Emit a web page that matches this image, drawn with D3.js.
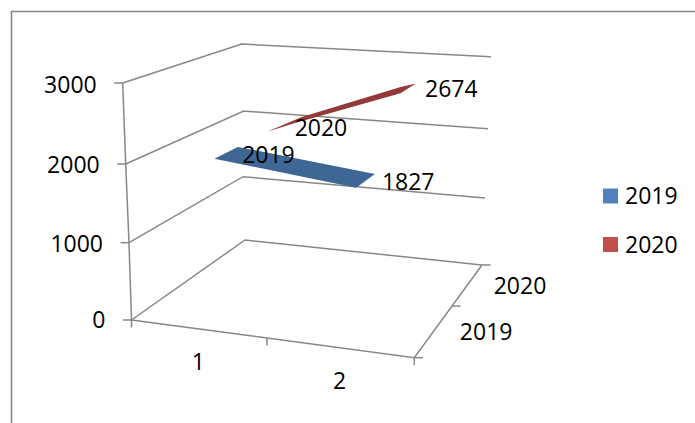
<!DOCTYPE html>
<html>
<head>
<meta charset="utf-8">
<script src="https://cdn.jsdelivr.net/npm/d3@7/dist/d3.min.js"></script>
<style>
  html, body { margin: 0; padding: 0; background: #fff; }
  svg { display: block; }
  text { font-family: "Open Sans", sans-serif; font-size: 23px; fill: #000; }
</style>
</head>
<body>
<svg id="chart" width="695" height="423"></svg>
<script>
// Values shown on the chart
const categories = ["1", "2"];
const seriesNames = ["2019", "2020"];
const values2019 = [2019, 1827];
const values2020 = [2020, 2674];
const valueTicks = [0, 1000, 2000, 3000];

const seriesColors = ["#4F81BD", "#C0504D"];
const surfaceColors = ["#3E6795", "#933A39"];
const lineColor = "#878787";

// Each vertical edge of the plot box is a pair of scales from value to pixels.
const edge = (xs, ys) => ({
  x: d3.scaleLinear().domain(valueTicks).range(xs),
  y: d3.scaleLinear().domain(valueTicks).range(ys)
});
const frontLeft  = edge([131.5, 129, 125.7, 122.7], [320, 242.7, 164, 83]);
const backLeft   = edge([245, 243, 243.7, 241.7],   [240, 176.7, 111, 44]);
const backRight  = edge([482, 485, 488, 491],       [265, 198, 128.7, 56.7]);
const frontRight = edge([414.3, 412.7, 410.5, 408], [357.7, 276.7, 192.7, 106.7]);

// Position along the category axis and into the depth of the box.
const across = d3.scaleLinear().domain([0, 0.5, 1]).range([0, 0.479, 1]);
const into   = d3.scaleLinear().domain([0, 0.5, 1]).range([0, 0.557, 1]);

function project(u, v, value) {
  const mix = (a, b, t) => a + (b - a) * t;
  const uu = across(u), vv = into(v);
  const at = axis => mix(
    mix(frontLeft[axis](value), frontRight[axis](value), uu),
    mix(backLeft[axis](value), backRight[axis](value), uu),
    vv
  );
  return [at("x"), at("y")];
}
// Same projection, but the depth is already in box units rather than axis units.
const projectDepth = (u, depth, value) => project(u, into.invert(depth), value);

const categoryU = d3.scalePoint().domain(d3.range(categories.length)).range([0.25, 0.76]);

const svg = d3.select("#chart");
const line = d3.line();
const closed = pts => line(pts) + "Z";

// Outer chart border: top and left edges
svg.append("path")
  .attr("d", line([[11.5, 423], [11.5, 11.5], [695, 11.5]]))
  .attr("fill", "none").attr("stroke", lineColor).attr("stroke-width", 1.6);

const axes = svg.append("g").attr("fill", "none").attr("stroke", lineColor).attr("stroke-width", 1.5);

// Wall grid lines at every value tick
valueTicks.forEach(t => {
  axes.append("path").attr("d", line([project(0, 0, t), project(0, 1, t), project(1, 1, t)]));
  const p = project(0, 0, t);
  axes.append("path").attr("d", line([[p[0] - 8.5, p[1]], p]));
});

// Vertical value axis and the floor's front and side edges
axes.append("path").attr("d", line(valueTicks.map(t => project(0, 0, t))));
axes.append("path").attr("d", line([project(0, 0, 0), project(1, 0, 0), project(1, 1, 0)]));

// Category ticks hang below the front edge
[0, 0.5, 1].forEach(u => {
  const p = project(u, 0, 0);
  axes.append("path").attr("d", line([p, [p[0], p[1] + 7.5]]));
});
// Series ticks point out from the side edge
[0, 0.5, 1].forEach(v => {
  const p = project(1, v, 0);
  axes.append("path").attr("d", line([p, [p[0] + 8.5, p[1]]]));
});

// Blue band: flat strip starting on the 2019 series
const blueDepth = [0.19, 0.405];
const blueBand = [
  projectDepth(categoryU(0), blueDepth[0], values2019[0]),
  projectDepth(categoryU(1), blueDepth[0], values2019[1]),
  projectDepth(categoryU(1), blueDepth[1], values2019[1]),
  projectDepth(categoryU(0), blueDepth[1], values2019[0])
];
svg.append("path").attr("d", closed(blueBand)).attr("fill", surfaceColors[0]);

// Red band: thin sliver along the 2020 series, rising towards category 2
const redDepth = d3.scaleLinear().domain([0, 1]).range([0.675, 0.865]);
const redValue = d3.scaleLinear().domain([0, 1]).range(values2020);
const redStops  = [0, 0.24, 0.9, 1, 0.9, 0.17];
const redOffset = [0, 45, 20, 0, -65, -5];
const redU = d3.scaleLinear().domain([0, 1]).range([categoryU(0), categoryU(1)]);
const redBand = redStops.map((c, i) => projectDepth(redU(c), redDepth(c), redValue(c) + redOffset[i]));
svg.append("path").attr("d", closed(redBand)).attr("fill", surfaceColors[1]);

function label(x, y, text, anchor) {
  svg.append("text").attr("x", x).attr("y", y).attr("dy", "0.35em")
    .attr("text-anchor", anchor || "middle").text(text);
}

// Value axis labels, right aligned against the ticks
valueTicks.forEach(t => {
  const p = project(0, 0, t);
  label(p[0] - 26, p[1] + (t === 3000 ? 2 : t === 0 ? 0 : 1), d3.format("d")(t), "end");
});

// Category labels below the front edge
categories.forEach((c, i) => {
  const p = project(i === 0 ? 0.25 : 0.75, 0, 0);
  label(p[0] - 1, p[1] + 33, c);
});

// Series labels beside the side edge
seriesNames.forEach((s, i) => {
  const p = project(1, i === 0 ? 0.25 : 0.75, 0);
  label(p[0] + 53, p[1], s);
});

// Value labels next to the surface corners
label(blueBand[0][0] + 54, blueBand[0][1] - 4, values2019[0]);
label(blueBand[1][0] + 52, blueBand[1][1] - 6, values2019[1]);
label(redBand[0][0] + 54, redBand[0][1] - 4, values2020[0]);
label(redBand[3][0] + 35.5, redBand[3][1] + 5, values2020[1]);

// Legend
const legendY = d3.scalePoint().domain(seriesNames).range([196, 244.5]);
seriesNames.forEach((s, i) => {
  svg.append("rect")
    .attr("x", 603).attr("y", legendY(s) - 7.5)
    .attr("width", 15).attr("height", 15)
    .attr("fill", seriesColors[i]);
  label(625, legendY(s), s, "start");
});
</script>
</body>
</html>
